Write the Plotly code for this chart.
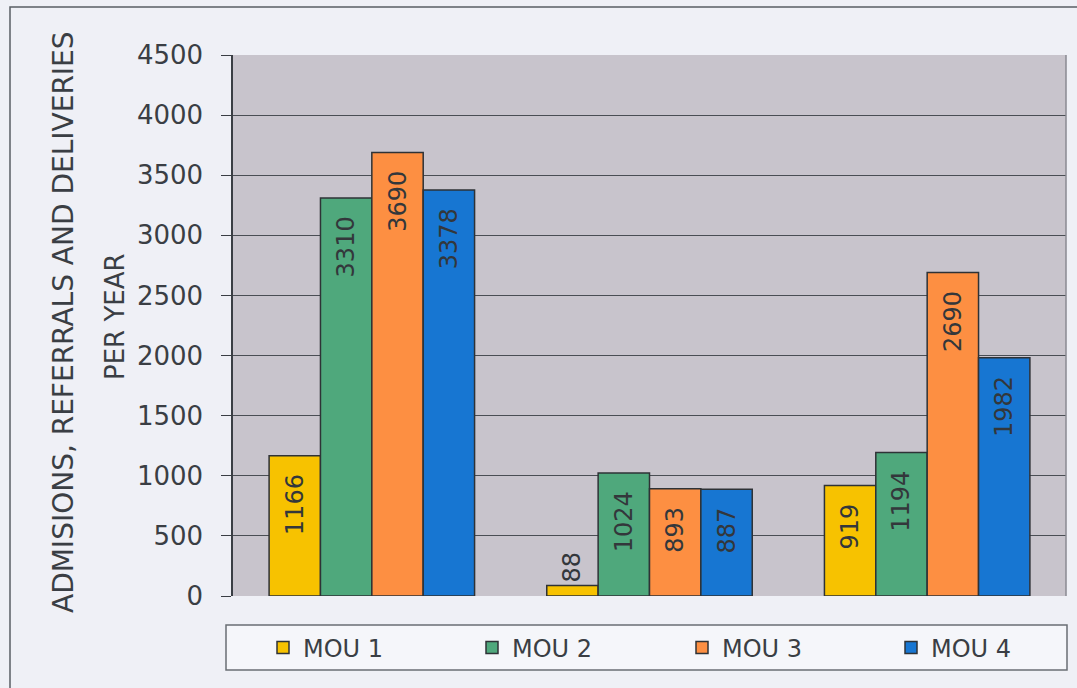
import plotly.graph_objects as go

# Three sites, four MOU series
categories = ["A", "B", "C"]
series_names = ["MOU 1", "MOU 2", "MOU 3", "MOU 4"]
mou1 = [1166, 88, 919]
mou2 = [3310, 1024, 1194]
mou3 = [3690, 893, 2690]
mou4 = [3378, 887, 1982]
series_values = [mou1, mou2, mou3, mou4]
colors = ["#f7c200", "#4fa87c", "#fd8f42", "#1776d2"]
y_ticks = [0, 500, 1000, 1500, 2000, 2500, 3000, 3500, 4000, 4500]
title_lines = ["ADMISIONS, REFERRALS AND DELIVERIES", "PER YEAR"]

W, H = 1077, 688
L, R, T, B = 233, 11, 55, 92
pw, ph = W - L - R, H - T - B


def px_x(x):
    return (x - L) / pw


def px_y(y):
    return (H - B - y) / ph


FONT = "DejaVu Sans"
INK = "#3a3e44"
legend_ids = ["legend", "legend2", "legend3", "legend4"]
legend_left = [263, 472, 682, 891]

fig = go.Figure()
for name, vals, col, lid in zip(series_names, series_values, colors, legend_ids):
    fig.add_trace(go.Bar(
        x=categories, y=vals, name=name, legend=lid,
        marker=dict(color=col, line=dict(color="#2e3236", width=1.5)),
        texttemplate="%{y}\u00a0\u00a0", textposition="auto", textangle=-90,
        insidetextanchor="end", constraintext="none",
        textfont=dict(family=FONT, size=24, color="#33373b"),
        outsidetextfont=dict(family=FONT, size=24, color="#33373b"),
        insidetextfont=dict(family=FONT, size=24, color="#33373b"),
        cliponaxis=False,
    ))

legend_style = dict(
    orientation="h", xanchor="left", y=px_y(648), yanchor="middle",
    font=dict(family=FONT, size=24, color=INK),
    bgcolor="rgba(0,0,0,0)", itemclick=False, itemdoubleclick=False,
)
legends = {lid: dict(legend_style, x=px_x(xl)) for lid, xl in zip(legend_ids, legend_left)}

fig.update_layout(
    width=W, height=H,
    margin=dict(l=L, r=R, t=T, b=B, autoexpand=False),
    paper_bgcolor="#eff0f6",
    plot_bgcolor="#c8c4cc",
    barmode="group", bargap=0.26, bargroupgap=0,
    font=dict(family=FONT, color=INK),
    showlegend=True,
    xaxis=dict(showticklabels=False, showgrid=False, zeroline=False,
               ticks="", showline=False),
    yaxis=dict(
        range=[0, 4500], tickvals=y_ticks, ticks="outside", ticklen=10,
        tickcolor=INK, tickfont=dict(family=FONT, size=26, color=INK),
        ticklabelstandoff=13,
        showgrid=True, gridcolor="#4a4e54", gridwidth=1,
        showline=True, linecolor=INK, linewidth=1.5,
        zeroline=False,
    ),
    annotations=[
        dict(text=title_lines[0], xref="paper", yref="paper",
             x=px_x(63), y=px_y(322), xanchor="center", yanchor="middle",
             textangle=-90, showarrow=False,
             font=dict(family=FONT, size=28, color=INK)),
        dict(text=title_lines[1], xref="paper", yref="paper",
             x=px_x(115), y=px_y(317), xanchor="center", yanchor="middle",
             textangle=-90, showarrow=False,
             font=dict(family=FONT, size=26, color=INK)),
    ],
    shapes=[
        # outer chart frame
        dict(type="rect", xref="paper", yref="paper",
             x0=px_x(10), x1=px_x(1090), y0=px_y(700), y1=px_y(7),
             line=dict(color="#5a5e64", width=1.5), layer="below"),
        # legend box
        dict(type="rect", xref="paper", yref="paper",
             x0=px_x(226), x1=px_x(1067), y0=px_y(670), y1=px_y(625),
             line=dict(color="#6a6e74", width=1.5), fillcolor="#f5f6fa",
             layer="below"),
        # right border of the plotting area
        dict(type="line", xref="paper", yref="paper",
             x0=1, x1=1, y0=0, y1=1,
             line=dict(color="#8a8a92", width=1.5)),
    ],
    **legends,
)

fig.write_html("out.html")
